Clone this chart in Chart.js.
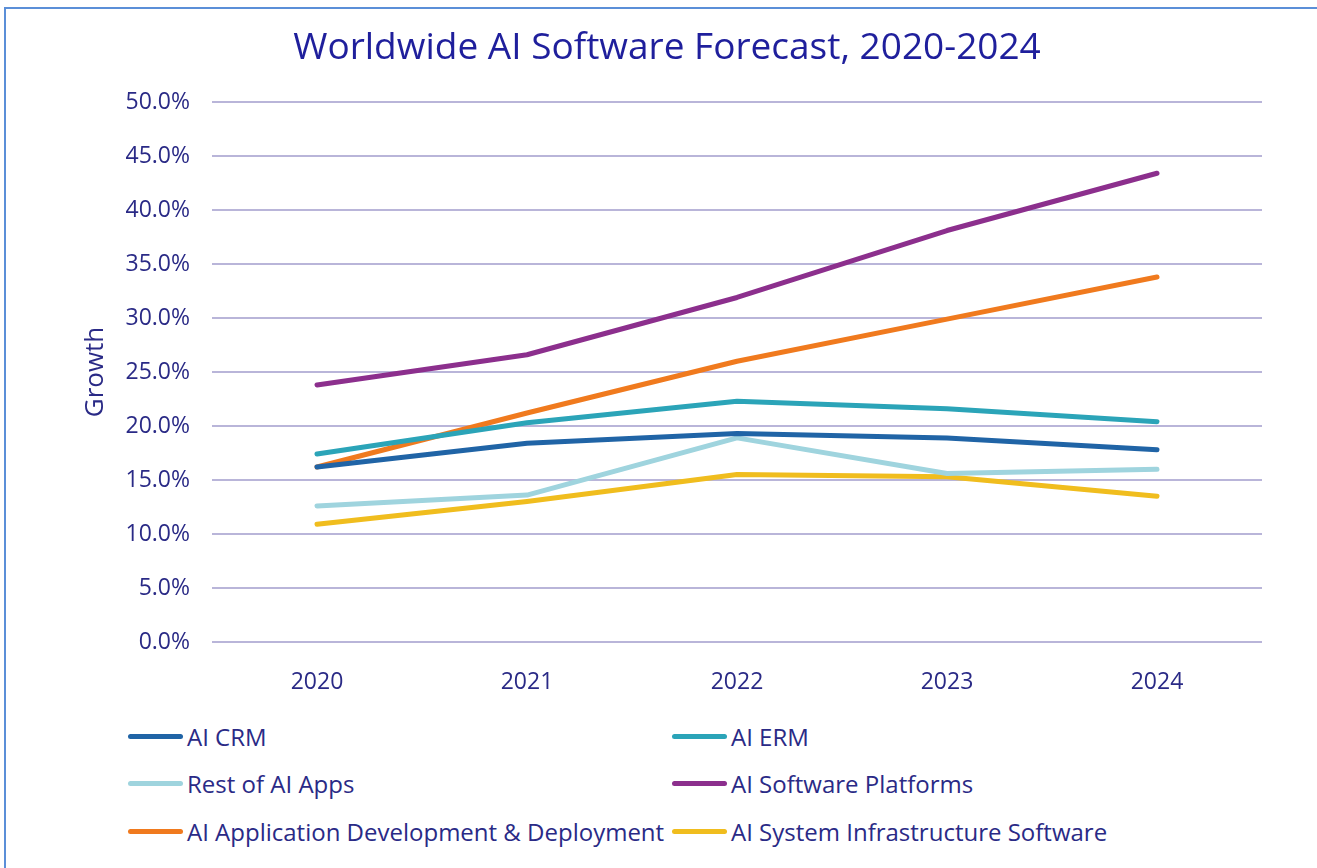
<!DOCTYPE html>
<html>
<head>
<meta charset="utf-8">
<script src="https://cdn.jsdelivr.net/npm/chart.js@4"></script>
<style>
body{margin:0;background:#fff;font-family:"Open Sans",sans-serif;}
#frame{position:absolute;left:4px;top:7px;width:1320px;height:870px;border-left:2px solid #5b8fd8;border-top:2px solid #5b8fd8;}
#title{position:absolute;left:0;top:20px;width:1334px;text-align:center;font-size:37px;line-height:50px;color:#1f1f9c;}
#wrap{position:absolute;left:0;top:0;width:1317px;height:700px;}
#legend{position:absolute;left:0;top:0;width:1317px;}
.item{position:absolute;display:flex;align-items:center;font-size:24px;color:#2a2a86;white-space:nowrap;}
.swatch{width:55px;height:5px;border-radius:3px;margin-right:4px;}
</style>
</head>
<body>
<div id="frame"></div>
<div id="wrap"><canvas id="chart"></canvas></div>
<div id="title">Worldwide AI Software Forecast, 2020-2024</div>
<div id="legend"></div>
<script>
const years = ["2020","2021","2022","2023","2024"]

const seriesNames = ["AI CRM","AI ERM","Rest of AI Apps","AI Software Platforms","AI Application Development & Deployment","AI System Infrastructure Software"]
const seriesColors = ["#2064a6","#2ba4b8","#9fd4de","#8c2f8d","#f07a1e","#f0bd1e"]

const aiCrm = [16.2,18.4,19.3,18.9,17.8]
const aiErm = [17.4,20.3,22.3,21.6,20.4]
const restApps = [12.6,13.6,18.9,15.6,16.0]
const platforms = [23.8,26.6,31.9,38.1,43.4]
const appDev = [16.2,21.2,26.0,29.9,33.8]
const sysInfra = [10.9,13.0,15.5,15.3,13.5]

const values = [aiCrm,aiErm,restApps,platforms,appDev,sysInfra]

const textColor = "#2a2a86"

const ctx = document.getElementById("chart")

new Chart(ctx,{
type:"line",
data:{
labels:years,
datasets:seriesNames.map((name,i)=>({
label:name,
data:values[i],
borderColor:seriesColors[i],
backgroundColor:seriesColors[i],
borderWidth:5,
borderCapStyle:"round",
borderJoinStyle:"round",
pointRadius:0,
tension:0
}))
},
options:{
responsive:true,
maintainAspectRatio:false,
animation:false,
layout:{padding:{top:102,left:0,right:55,bottom:0}},
plugins:{
legend:{display:false},
tooltip:{enabled:false},
title:{display:false}
},
scales:{
x:{
offset:true,
grid:{display:false,drawTicks:false},
border:{display:false},
ticks:{color:textColor,font:{family:"Open Sans",size:23},padding:27},
afterFit:s=>{s.height=58}
},
y:{
min:0,
max:50,
grid:{color:"#b9b5d9",lineWidth:2,drawTicks:false},
border:{display:false},
ticks:{
stepSize:5,
color:textColor,
font:{family:"Open Sans",size:23},
padding:22,
callback:v=>v.toFixed(1)+"%"
},
title:{
display:true,
text:"Growth",
color:textColor,
font:{family:"Open Sans",size:26},
padding:{top:80,bottom:0}
},
afterFit:s=>{s.width=212}
}
}
}
})

const legend = document.getElementById("legend")
const rows = [736,783,831]
const cols = [128,672]
seriesNames.forEach((name,i)=>{
const item = document.createElement("div")
item.className = "item"
item.style.left = cols[i%2]+"px"
item.style.top = (rows[Math.floor(i/2)]-17)+"px"
item.style.height = "34px"
item.innerHTML = `<span class="swatch" style="background:${seriesColors[i]}"></span><span>${name}</span>`
legend.appendChild(item)
})
</script>
</body>
</html>
